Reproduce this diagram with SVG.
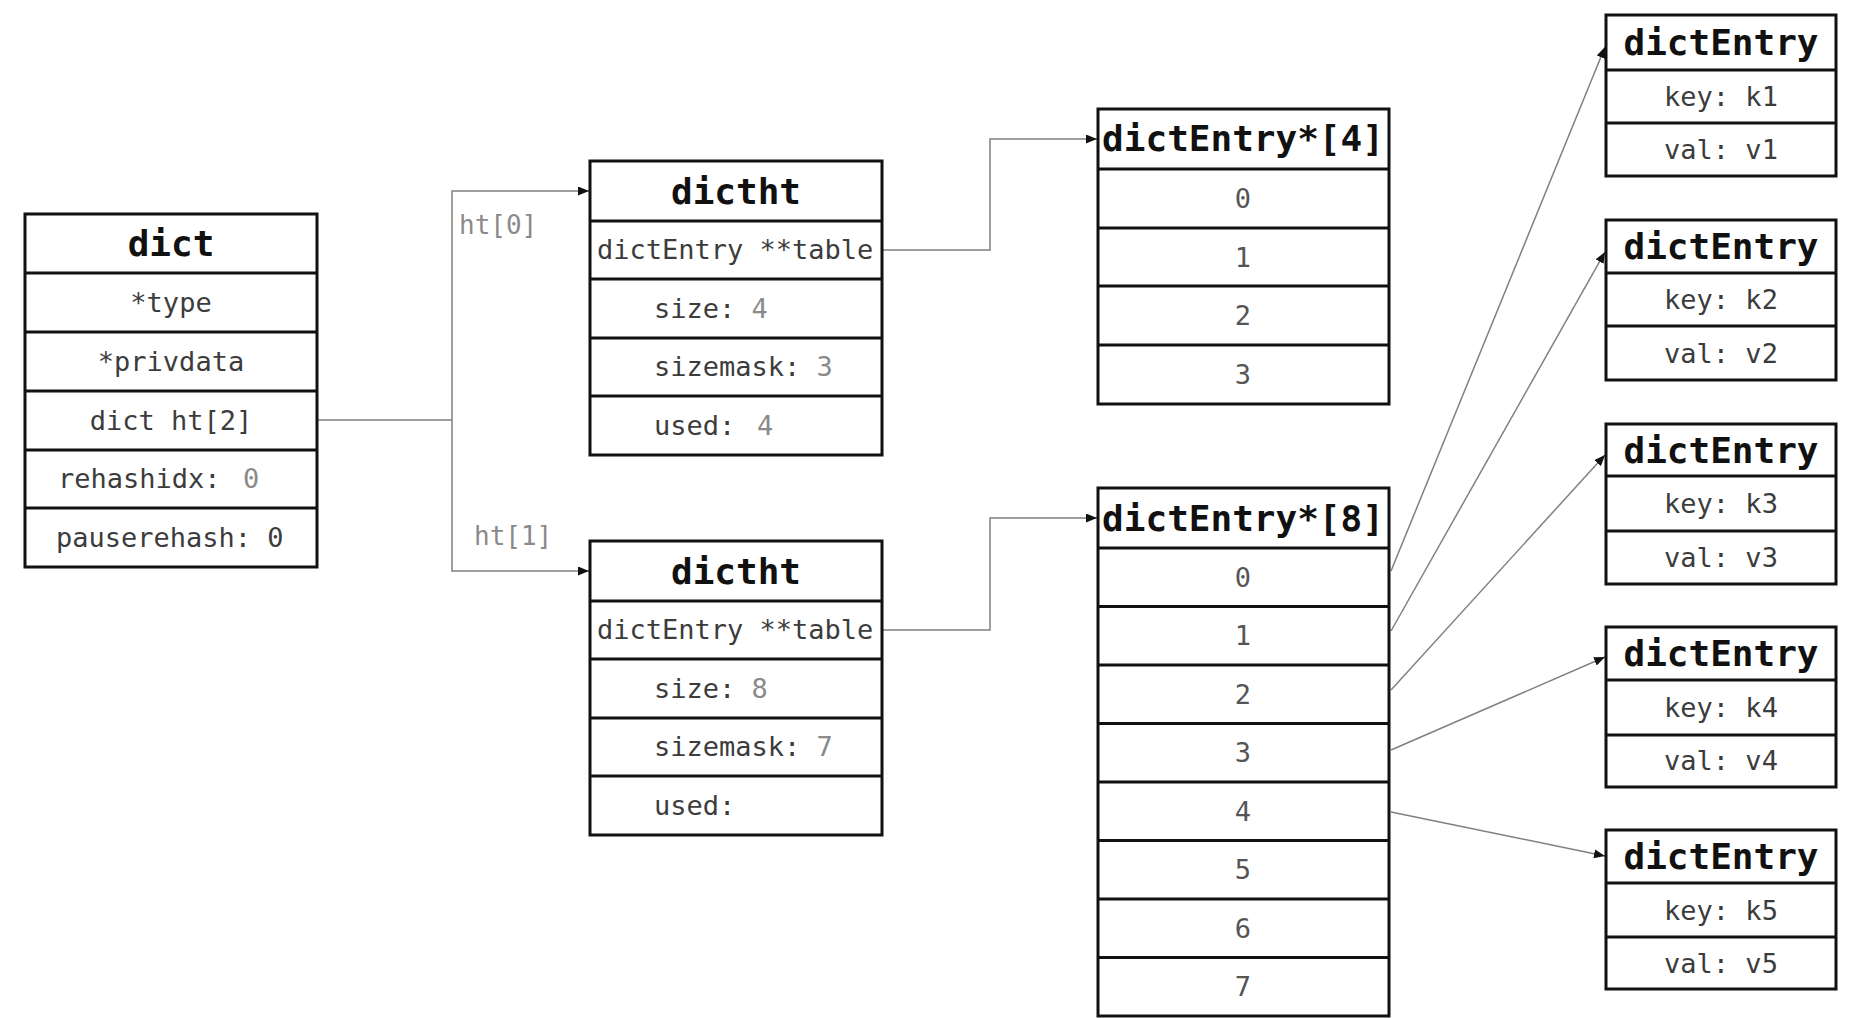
<svg xmlns="http://www.w3.org/2000/svg" width="1861" height="1018" viewBox="0 0 1861 1018">
<style>
.bg{fill:#fff}
.box{fill:#fff;stroke:#111;stroke-width:3}
.div{stroke:#111;stroke-width:3}
.hdr{font-family:"DejaVu Sans Mono",monospace;font-weight:bold;font-size:36px;fill:#111;text-anchor:middle}
.fld{font-family:"DejaVu Sans Mono",monospace;font-size:27px;fill:#3c3c3c;white-space:pre}
.mid{text-anchor:middle}
.val{fill:#8a8a8a}
.num{fill:#555}
.lbl{font-family:"DejaVu Sans Mono",monospace;font-size:26px;fill:#8a8a8a}
.conn{fill:none;stroke:#808080;stroke-width:1.5;marker-end:url(#arr)}
.line{fill:none;stroke:#808080;stroke-width:1.5}
</style>
<defs>
<marker id="arr" markerWidth="11" markerHeight="9" refX="11" refY="4.5" orient="auto" markerUnits="userSpaceOnUse">
<path d="M0,0 L11,4.5 L0,9 z" fill="#111"/>
</marker>
</defs>
<rect class="bg" x="0" y="0" width="1861" height="1018"/>

<g id="connectors">
<path class="line" d="M317,420 H452"/>
<path class="conn" d="M452,420 V191 H589"/>
<path class="conn" d="M452,420 V571 H589"/>
<path class="conn" d="M882,250 H990 V139 H1097"/>
<path class="conn" d="M882,630 H990 V518 H1097"/>
<path class="conn" d="M1391,571 L1605,47"/>
<path class="conn" d="M1391,631 L1605,252"/>
<path class="conn" d="M1391,690 L1605,455"/>
<path class="conn" d="M1391,750 L1605,657"/>
<path class="conn" d="M1391,812 L1605,856"/>
<text class="lbl" x="459" y="234">ht[0]</text>
<text class="lbl" x="474" y="545">ht[1]</text>
</g>

<g id="dict">
<rect class="box" x="25" y="214" width="292" height="353"/>
<path class="div" d="M25,273 H317 M25,332 H317 M25,391 H317 M25,450 H317 M25,508 H317"/>
<text class="hdr" x="171" y="256">dict</text>
<text class="fld mid" x="171" y="312">*type</text>
<text class="fld mid" x="171" y="371">*privdata</text>
<text class="fld mid" x="171" y="430">dict ht[2]</text>
<text class="fld" x="58" y="488">rehashidx: <tspan class="val" x="243">0</tspan></text>
<text class="fld" x="56" y="547">pauserehash: 0</text>
</g>

<g id="dictht0">
<rect class="box" x="590" y="161" width="292" height="294"/>
<path class="div" d="M590,221 H882 M590,279 H882 M590,338 H882 M590,396 H882"/>
<text class="hdr" x="736" y="204">dictht</text>
<text class="fld" x="597" y="259">dictEntry **table</text>
<text class="fld" x="654" y="318" xml:space="preserve">size: <tspan class="val">4</tspan></text>
<text class="fld" x="654" y="376" xml:space="preserve">sizemask: <tspan class="val">3</tspan></text>
<text class="fld" x="654" y="435">used: <tspan class="val" x="757">4</tspan></text>
</g>

<g id="dictht1">
<rect class="box" x="590" y="541" width="292" height="294"/>
<path class="div" d="M590,601 H882 M590,659 H882 M590,718 H882 M590,776 H882"/>
<text class="hdr" x="736" y="584">dictht</text>
<text class="fld" x="597" y="639">dictEntry **table</text>
<text class="fld" x="654" y="698" xml:space="preserve">size: <tspan class="val">8</tspan></text>
<text class="fld" x="654" y="756" xml:space="preserve">sizemask: <tspan class="val">7</tspan></text>
<text class="fld" x="654" y="815">used:</text>
</g>

<g id="table4">
<rect class="box" x="1098" y="109" width="291" height="295"/>
<path class="div" d="M1098,169 H1389 M1098,228 H1389 M1098,286 H1389 M1098,345 H1389"/>
<text class="hdr" x="1243" y="151">dictEntry*[4]</text>
<text class="fld mid num" x="1243" y="208">0</text>
<text class="fld mid num" x="1243" y="267">1</text>
<text class="fld mid num" x="1243" y="325">2</text>
<text class="fld mid num" x="1243" y="384">3</text>
</g>

<g id="table8">
<rect class="box" x="1098" y="488" width="291" height="528"/>
<path class="div" d="M1098,548 H1389 M1098,606.5 H1389 M1098,665 H1389 M1098,723.5 H1389 M1098,782 H1389 M1098,840.5 H1389 M1098,899 H1389 M1098,957.5 H1389"/>
<text class="hdr" x="1243" y="531">dictEntry*[8]</text>
<text class="fld mid num" x="1243" y="587">0</text>
<text class="fld mid num" x="1243" y="645">1</text>
<text class="fld mid num" x="1243" y="704">2</text>
<text class="fld mid num" x="1243" y="762">3</text>
<text class="fld mid num" x="1243" y="821">4</text>
<text class="fld mid num" x="1243" y="879">5</text>
<text class="fld mid num" x="1243" y="938">6</text>
<text class="fld mid num" x="1243" y="996">7</text>
</g>

<g id="entry1">
<rect class="box" x="1606" y="15" width="230" height="161"/>
<path class="div" d="M1606,70 H1836 M1606,123 H1836"/>
<text class="hdr" x="1721" y="55">dictEntry</text>
<text class="fld mid" x="1721" y="106">key: k1</text>
<text class="fld mid" x="1721" y="159">val: v1</text>
</g>

<g id="entry2">
<rect class="box" x="1606" y="220" width="230" height="160"/>
<path class="div" d="M1606,273 H1836 M1606,326 H1836"/>
<text class="hdr" x="1721" y="259">dictEntry</text>
<text class="fld mid" x="1721" y="309">key: k2</text>
<text class="fld mid" x="1721" y="363">val: v2</text>
</g>

<g id="entry3">
<rect class="box" x="1606" y="424" width="230" height="160"/>
<path class="div" d="M1606,476 H1836 M1606,531 H1836"/>
<text class="hdr" x="1721" y="463">dictEntry</text>
<text class="fld mid" x="1721" y="513">key: k3</text>
<text class="fld mid" x="1721" y="567">val: v3</text>
</g>

<g id="entry4">
<rect class="box" x="1606" y="627" width="230" height="160"/>
<path class="div" d="M1606,680 H1836 M1606,735 H1836"/>
<text class="hdr" x="1721" y="666">dictEntry</text>
<text class="fld mid" x="1721" y="717">key: k4</text>
<text class="fld mid" x="1721" y="770">val: v4</text>
</g>

<g id="entry5">
<rect class="box" x="1606" y="830" width="230" height="159"/>
<path class="div" d="M1606,883 H1836 M1606,937 H1836"/>
<text class="hdr" x="1721" y="869">dictEntry</text>
<text class="fld mid" x="1721" y="920">key: k5</text>
<text class="fld mid" x="1721" y="973">val: v5</text>
</g>
</svg>
